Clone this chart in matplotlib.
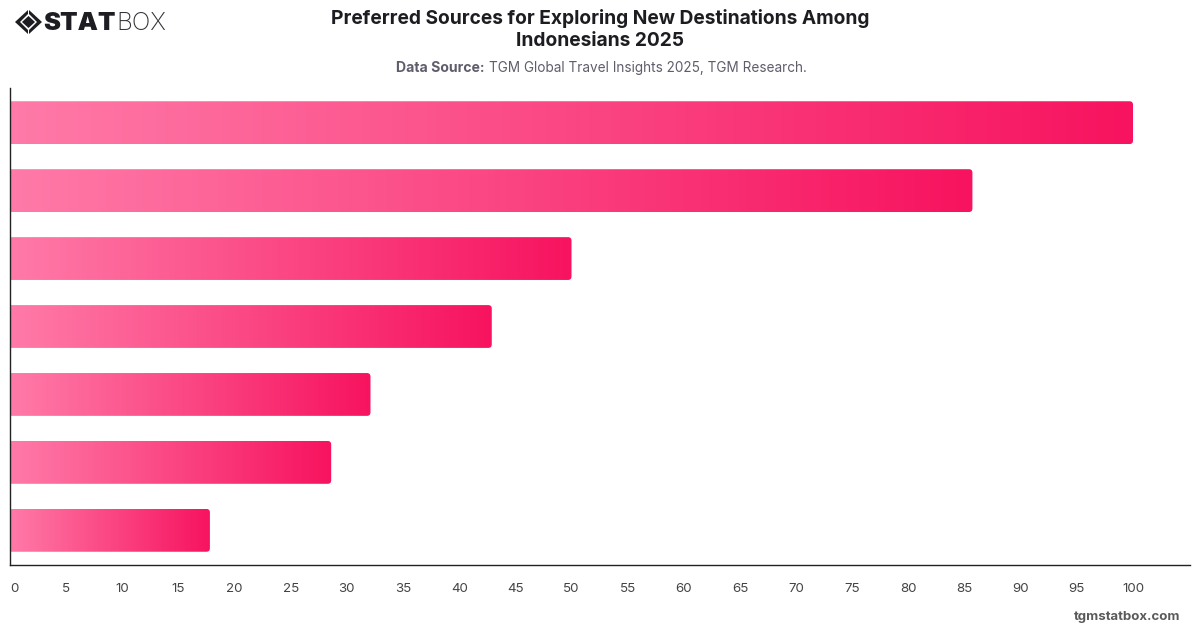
#!/usr/bin/env python3
"""Horizontal gradient bar chart of preferred travel discovery sources."""
import matplotlib
matplotlib.use('Agg')
import matplotlib.pyplot as plt
import numpy as np
from matplotlib.colors import LinearSegmentedColormap
from matplotlib.patches import PathPatch, Polygon
from matplotlib.path import Path

plt.rcParams['font.family'] = ['Inter', 'DejaVu Sans']

# Top to bottom; the source chart leaves the categories unlabelled.
values = [100, 85.7, 50, 42.9, 32.1, 28.6, 17.8]
x_ticks = list(range(0, 101, 5))

title = 'Preferred Sources for Exploring New Destinations Among\nIndonesians 2025'
source_bold = 'Data Source:'
source_rest = 'TGM Global Travel Insights 2025, TGM Research.'
site = 'tgmstatbox.com'

W, H = 1200, 628
BAR_HEIGHT = 0.63
CORNER_PX = 3.5
cmap = LinearSegmentedColormap.from_list('bar', ['#ff7aa8', '#f7135f'])

fig = plt.figure(figsize=(W / 100, H / 100), dpi=100, facecolor='white')
ax = fig.add_axes([10 / W, 1 - 565 / H, (1190 - 10) / W, (565 - 88) / H])
x_span = 1180 / 11.23
y_low, y_high = len(values) - 0.5 + 0.01, -0.5 - 0.01


def rounded_bar_path(value, y, rx, ry):
    # Square on the baseline, rounded on the value end.
    top, bottom = y - BAR_HEIGHT / 2, y + BAR_HEIGHT / 2
    verts = [(0, top), (value - rx, top), (value, top), (value, top + ry),
             (value, bottom - ry), (value, bottom), (value - rx, bottom),
             (0, bottom), (0, top)]
    codes = [Path.MOVETO, Path.LINETO, Path.CURVE3, Path.CURVE3,
             Path.LINETO, Path.CURVE3, Path.CURVE3, Path.LINETO, Path.CLOSEPOLY]
    return Path(verts, codes)


rx = CORNER_PX * x_span / 1180
ry = CORNER_PX * (y_low - y_high) / 477
ramp = np.linspace(0, 1, 256).reshape(1, -1)

for i, value in enumerate(values):
    top, bottom = i - BAR_HEIGHT / 2, i + BAR_HEIGHT / 2
    im = ax.imshow(ramp, extent=(0, value, bottom, top), cmap=cmap, vmin=0, vmax=1,
                   aspect='auto', interpolation='bilinear', zorder=2)
    clip = PathPatch(rounded_bar_path(value, i, rx, ry), transform=ax.transData,
                     facecolor='none', edgecolor='none')
    ax.add_patch(clip)
    im.set_clip_path(clip)

ax.set_xlim(0, x_span)
ax.set_ylim(y_low, y_high)

for side in ('top', 'right'):
    ax.spines[side].set_visible(False)
for side in ('left', 'bottom'):
    ax.spines[side].set_color('#222222')
    ax.spines[side].set_linewidth(1.0)
ax.set_yticks([])
ax.set_xticks(x_ticks)
ax.tick_params(axis='x', length=0, pad=13, labelsize=9.6, labelcolor='#444444')
ax.get_xticklabels()[0].set_ha('left')

# Header
fig.text(600 / W, 1 - 18 / H, title.split('\n')[0], ha='center', va='center',
         fontsize=13.8, fontweight='bold', color='#1c1c21')
fig.text(600 / W, 1 - 41.5 / H, title.split('\n')[1], ha='center', va='center',
         fontsize=13.8, fontweight='bold', color='#1c1c21')
fig.text(396 / W, 1 - 72 / H, source_bold, ha='left', va='baseline',
         fontsize=10.1, fontweight='bold', color='#5f5d6c')
fig.text(489 / W, 1 - 72 / H, source_rest, ha='left', va='baseline',
         fontsize=9.78, color='#5f5d6c')
fig.text(1180 / W, 1 - 617 / H, site, ha='right', va='center',
         fontsize=9.5, fontweight='bold', color='#5a5a5a')


# Logo: diamond mark plus wordmark
def px(points):
    return [(x / W, 1 - y / H) for x, y in points]


logo = '#1d1d22'
for pts in (
    [(15, 22), (28, 10), (28, 14), (20, 22), (28, 30), (28, 34)],
    [(42, 22), (29, 10), (29, 14), (37, 22), (29, 30), (29, 34)],
    [(22, 22), (28.5, 16), (35, 22), (28.5, 28)],
):
    fig.add_artist(Polygon(px(pts), closed=True, transform=fig.transFigure,
                           facecolor=logo, edgecolor='none'))
fig.text(43 / W, 1 - 23 / H, 'STAT', ha='left', va='center', fontsize=18.4,
         fontweight='black', color=logo)
fig.text(116 / W, 1 - 23 / H, 'BOX', ha='left', va='center', fontsize=17.6,
         fontweight='light', color='#33333a')

fig.savefig('out.png', dpi=100)
plt.close(fig)
